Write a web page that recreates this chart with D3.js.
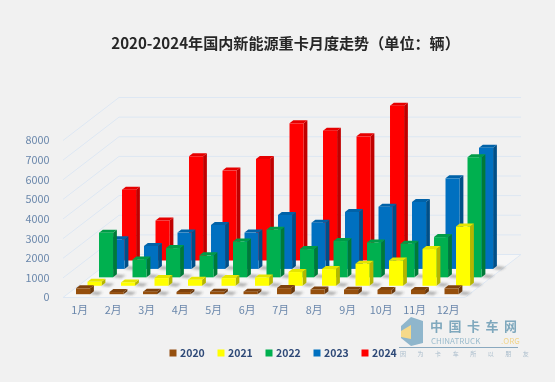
<!DOCTYPE html>
<html><head><meta charset="utf-8">
<script src="https://cdn.jsdelivr.net/npm/d3@7/dist/d3.min.js"></script>
<style>html,body{margin:0;padding:0;background:#f1f1f1}svg{display:block}</style>
</head><body><svg id="c" width="555" height="382"></svg>
<script>
const months = ["1月","2月","3月","4月","5月","6月","7月","8月","9月","10月","11月","12月"];
const seriesNames = ["2024","2023","2022","2021","2020"];
const colors2024 = ["#ff0000","#c00000","#e60000"];
const colors2023 = ["#0070c0","#004f88","#0062a8"];
const colors2022 = ["#00b050","#007a38","#009c46"];
const colors2021 = ["#ffff00","#b5b500","#e6e600"];
const colors2020 = ["#954f0f","#6a380a","#7f430c"];
const v2024 = [3610,2035,5310,4580,5175,6990,6615,6325,7890,null,null,null];
const v2023 = [1510,1170,1850,2240,1850,2750,2355,2900,3170,3410,4615,6175];
const v2022 = [2275,915,1490,1120,1830,2430,1440,1850,1780,1715,2050,6120];
const v2021 = [200,170,390,305,390,420,700,850,1120,1290,1870,3020];
const v2020 = [300,110,130,110,120,130,310,240,230,220,220,300];
const yTicks = [0,1000,2000,3000,4000,5000,6000,7000,8000];
const legendOrder = ["2020","2021","2022","2023","2024"];
const title = "2020-2024年国内新能源重卡月度走势（单位：辆）";

const valuesBy = {"2024":v2024,"2023":v2023,"2022":v2022,"2021":v2021,"2020":v2020};
const colorsBy = {"2024":colors2024,"2023":colors2023,"2022":colors2022,"2021":colors2021,"2020":colors2020};
const svg = d3.select("#c");
const FONT = "'Noto Sans CJK SC','Noto Sans',sans-serif";

const defs = svg.append("defs");
defs.append("filter").attr("id","soft").attr("x","-5%").attr("y","-5%").attr("width","110%").attr("height","110%")
  .append("feGaussianBlur").attr("stdDeviation",0.45);
defs.append("filter").attr("id","shad").attr("x","-30%").attr("y","-30%").attr("width","160%").attr("height","160%")
  .append("feGaussianBlur").attr("stdDeviation",1.1);

const root = svg.append("g").attr("filter","url(#soft)");

const x = d3.scaleBand().domain(months).range([63,465]).paddingInner(0.58).paddingOuter(0.29);
const y = d3.scaleLinear().domain([0,8000]).range([297.5,140.5]);
const zx = d3.scalePoint().domain(["2020","2021","2022","2023","2024"]).range([3.3,49.3]);
const zy = d3.scalePoint().domain(["2020","2021","2022","2023","2024"]).range([-3.3,-37]);
const backDx = 56, backDy = -43, sideW = 3.8, sideH = 3;
const gridC = "#dde7f3";

const x0 = x.range()[0], x1 = x.range()[1], y0 = y(0);
root.append("polygon").attr("fill","#f6f6f6")
  .attr("points",[[x0,y0],[x1,y0],[x1+backDx,y0+backDy],[x0+backDx,y0+backDy]].join(" "));

const grid = root.append("g").attr("fill","none").attr("stroke",gridC).attr("stroke-width",1);
yTicks.forEach(t=>{
  const yy = y(t);
  grid.append("path").attr("d",d3.line()([[x0,yy],[x0+backDx,yy+backDy],[x1+backDx,yy+backDy]]));
});
grid.append("path").attr("d",d3.line()([[x0,y0],[x1,y0],[x1+backDx,y0+backDy]]));

seriesNames.forEach(name=>{
  const g = root.append("g");
  const [cF,cS,cT] = colorsBy[name];
  const dx = zx(name), dy = zy(name), w = x.bandwidth();
  const rows = months.map((m,i)=>({m,v:valuesBy[name][i]})).filter(d=>d.v!=null);
  g.selectAll("polygon.s").data(rows).join("polygon")
    .attr("fill","rgba(70,70,70,.38)").attr("filter","url(#shad)")
    .attr("points",d=>{
      const l=x(d.m)+dx, b=y(0)+dy;
      return [[l+w,b],[l+w+sideW,b-sideH],[l+w+sideW+9,b-sideH+1],[l+w+8,b+1]].join(" ");
    });
  g.selectAll("polygon.side").data(rows).join("polygon").attr("fill",cS)
    .attr("points",d=>{
      const l=x(d.m)+dx, b=y(0)+dy, t=y(d.v)+dy;
      return [[l+w,b],[l+w+sideW,b-sideH],[l+w+sideW,t-sideH],[l+w,t]].join(" ");
    });
  g.selectAll("polygon.top").data(rows).join("polygon").attr("fill",cT)
    .attr("points",d=>{
      const l=x(d.m)+dx, t=y(d.v)+dy;
      return [[l,t],[l+sideW,t-sideH],[l+w+sideW,t-sideH],[l+w,t]].join(" ");
    });
  g.selectAll("rect").data(rows).join("rect").attr("fill",cF)
    .attr("x",d=>x(d.m)+dx).attr("width",w)
    .attr("y",d=>y(d.v)+dy).attr("height",d=>y(0)-y(d.v));
});

const yAxis = root.append("g").attr("transform","translate(58.5,0)")
  .call(d3.axisLeft(y).tickValues(yTicks).tickSize(0).tickPadding(9).tickFormat(d3.format("d")));
const xAxis = root.append("g").attr("transform","translate(0,306)")
  .call(d3.axisBottom(x).tickSize(0).tickPadding(0));
[yAxis,xAxis].forEach(a=>{
  a.select(".domain").remove();
  a.selectAll("text").attr("font-family",FONT).attr("font-size",10.8).attr("fill","#6a87ab");
});
xAxis.selectAll("text").attr("dy","0.71em");

svg.append("text").text(title).attr("x",285.5).attr("y",49).attr("text-anchor","middle")
  .attr("font-family",FONT).attr("font-weight",700).attr("font-size",15.1).attr("fill","#262626").attr("filter","url(#soft)");

const lx = d3.scalePoint().domain(legendOrder).range([169.5,361.5]);
const lg = svg.append("g").attr("filter","url(#soft)");
legendOrder.forEach(n=>{
  lg.append("rect").attr("x",lx(n)).attr("y",349.5).attr("width",7).attr("height",7).attr("fill",colorsBy[n][0]);
  lg.append("text").text(n).attr("x",lx(n)+10.5).attr("y",357).attr("font-family",FONT)
    .attr("font-weight",700).attr("font-size",10.5).attr("fill","#2f4a78");
});

const wm = svg.append("g").attr("filter","url(#soft)").attr("font-family",FONT);
wm.append("polygon").attr("points","401,326 411,317 423,321 423,343 411,346 401,338").attr("fill","#8fb6cc");
wm.append("polygon").attr("points","401,331 411,325 411,339 401,337").attr("fill","#f5d98a");
wm.append("text").text("中国卡车网").attr("x",430).attr("y",331).attr("font-size",13).attr("letter-spacing",5.5).attr("font-weight",700).attr("fill","#7fa8bd");
wm.append("text").text("CHINATRUCK").attr("x",431).attr("y",344).attr("font-size",8).attr("fill","#9cbccd");
wm.append("text").text(".ORG").attr("x",501).attr("y",344).attr("font-size",8).attr("fill","#f1d48a");
wm.append("line").attr("x1",399).attr("x2",518).attr("y1",347.5).attr("y2",347.5).attr("stroke","#8aa9bf");
wm.append("text").text("因 为 卡 车 所 以 朋 友").attr("x",400).attr("y",356).attr("font-size",6).attr("letter-spacing",5.1).attr("fill","#a9bccb");
</script></body></html>
